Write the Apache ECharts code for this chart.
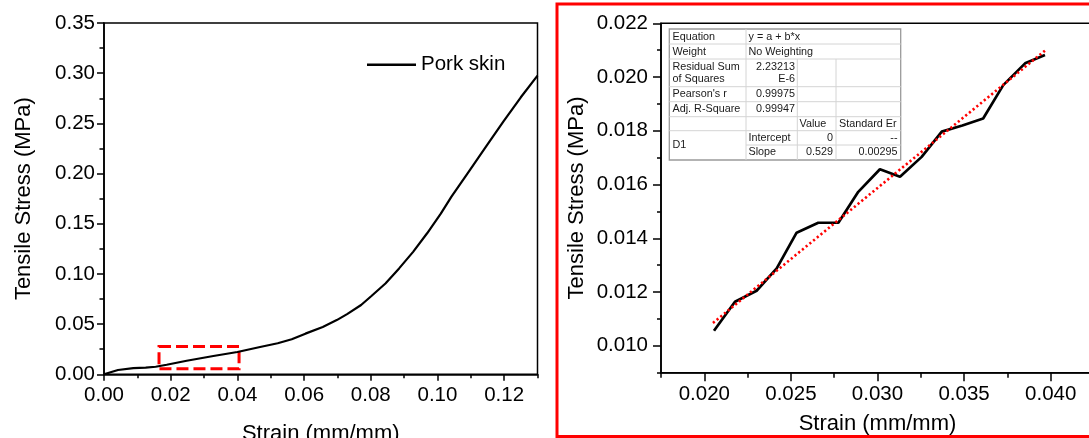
<!DOCTYPE html>
<html><head><meta charset="utf-8">
<script src="https://cdn.jsdelivr.net/npm/echarts@6/dist/echarts.min.js"></script>
<style>html,body{margin:0;padding:0;background:#fff}#c{width:1089px;height:438px}</style>
</head><body><div id="c"></div>
<script>
// ---- Left panel: full stress-strain curve ----
const leftStrain = [0, 0.0042, 0.0088, 0.0125, 0.0155, 0.0188, 0.0248, 0.0328, 0.0400, 0.0468, 0.0521, 0.0563, 0.0604, 0.0656, 0.0698, 0.0729, 0.0771, 0.0802, 0.0844, 0.0885, 0.0927, 0.0969, 0.1010, 0.1042, 0.1094, 0.1146, 0.1198, 0.1250, 0.1300];
const leftStress = [0, 0.0043, 0.0062, 0.0067, 0.0075, 0.0095, 0.0135, 0.0182, 0.0222, 0.0272, 0.0309, 0.0349, 0.0405, 0.0472, 0.0540, 0.0600, 0.0690, 0.0780, 0.0905, 0.1055, 0.1220, 0.1405, 0.1600, 0.1770, 0.2020, 0.2270, 0.2520, 0.2760, 0.2975];
const leftXTicks = [0.00, 0.02, 0.04, 0.06, 0.08, 0.10, 0.12];
const leftYTicks = [0.00, 0.05, 0.10, 0.15, 0.20, 0.25, 0.30, 0.35];
const zoomBoxStrain = [0.0165, 0.0405];
const zoomBoxStress = [0.0055, 0.0278];
const legendName = 'Pork skin';

// ---- Right panel: zoomed region + linear fit ----
const zoomStrain = [0.02056, 0.02177, 0.02302, 0.02418, 0.02533, 0.02658, 0.02774, 0.02889, 0.03014, 0.03130, 0.03255, 0.03371, 0.03490, 0.03610, 0.03726, 0.03852, 0.03967];
const zoomStress = [0.01056, 0.01164, 0.01205, 0.01288, 0.01421, 0.01458, 0.01458, 0.01573, 0.01657, 0.01629, 0.01703, 0.01797, 0.01820, 0.01846, 0.01970, 0.02051, 0.02082];
const fitStrain = [0.0205, 0.0397];
const fitStress = [0.01085, 0.02100];
const rightXTicks = [0.020, 0.025, 0.030, 0.035, 0.040];
const rightYTicks = [0.010, 0.012, 0.014, 0.016, 0.018, 0.020, 0.022];

// ---- Fit table text ----
const tableLabels = ['Equation', 'Weight', 'Residual Sum', 'of Squares', "Pearson's r", 'Adj. R-Square', 'D1'];
const tableValues = ['y = a + b*x', 'No Weighting', '2.23213', 'E-6', '0.99975', '0.99947'];
const tableHeader = ['Value', 'Standard Er'];
const tableParams = ['Intercept', 'Slope'];
const tableParamValues = ['0', '0.529'];
const tableParamErrors = ['--', '0.00295'];

const FONT = '"Liberation Sans", Arial, sans-serif';
const zip = (a, b) => a.map((v, i) => [v, b[i]]);
const near = (v, arr) => arr.some(t => Math.abs(t - v) < 1e-7);

const chart = echarts.init(document.getElementById('c'));

function mainAxis(grid, min, max, interval, ticks, digits, tickLen, margin, name, nameGap, isX) {
  return {
    type: 'value', gridIndex: grid, min: min, max: max, interval: interval,
    position: isX ? 'bottom' : 'left',
    name: name, nameLocation: 'middle', nameGap: nameGap,
    nameTextStyle: { fontFamily: FONT, fontSize: 22, color: '#000' },
    axisLine: { show: true, lineStyle: { color: '#000', width: 1.6 } },
    axisTick: { show: true, inside: false, length: tickLen, lineStyle: { color: '#000', width: 1.5 } },
    axisLabel: { show: true, margin: margin, fontFamily: FONT, fontSize: 20.5, color: '#000',
      formatter: v => near(v, ticks) ? v.toFixed(digits) : '' },
    splitLine: { show: false }
  };
}
function majorAxis(grid, min, max, interval, ticks, tickLen, isX) {
  return {
    type: 'value', gridIndex: grid, min: min, max: max, interval: interval,
    position: isX ? 'bottom' : 'left',
    axisLine: { show: false },
    axisTick: { show: true, inside: false, length: tickLen, customValues: ticks, lineStyle: { color: '#000', width: 1.5 } },
    axisLabel: { show: false },
    splitLine: { show: false }
  };
}

const option = {
  backgroundColor: '#fff',
  animation: false,
  grid: [
    { left: 104, top: 23, width: 433.5, height: 351.3, show: true, borderColor: '#000', borderWidth: 1.5, containLabel: false, outerBoundsMode: 'none' },
    { left: 661, top: 23.3, width: 433, height: 349.4, show: true, borderColor: '#000', borderWidth: 1.5, containLabel: false, outerBoundsMode: 'none' }
  ],
  legend: {
    data: [legendName], left: 367, top: 54.3, padding: 0, itemWidth: 49, itemHeight: 2.4, itemGap: 5, icon: 'rect',
    itemStyle: { color: '#000' },
    textStyle: { fontFamily: FONT, fontSize: 20.5, color: '#000' }
  },
  xAxis: [
    mainAxis(0, 0, 0.13, 0.01, leftXTicks, 2, 4, 11, 'Strain (mm/mm)', 49, true),
    majorAxis(0, 0, 0.13, 0.01, leftXTicks, 6.5, true),
    mainAxis(1, 0.0175, 0.0425, 0.0025, rightXTicks, 3, 5, 11, 'Strain (mm/mm)', 40, true),
    majorAxis(1, 0.0175, 0.0425, 0.0025, rightXTicks, 8.5, true)
  ],
  yAxis: [
    mainAxis(0, 0, 0.35, 0.025, leftYTicks, 2, 4.5, 9, 'Tensile Stress (MPa)', 69, false),
    majorAxis(0, 0, 0.35, 0.025, leftYTicks, 7, false),
    mainAxis(1, 0.009, 0.022, 0.001, rightYTicks, 3, 4, 13, 'Tensile Stress (MPa)', 73, false),
    majorAxis(1, 0.009, 0.022, 0.001, rightYTicks, 8, false)
  ],
  series: [
    {
      name: legendName, type: 'line', xAxisIndex: 0, yAxisIndex: 0,
      data: zip(leftStrain, leftStress), symbol: 'none', smooth: false,
      lineStyle: { color: '#000', width: 2.2 }, itemStyle: { color: '#000' },
      markArea: {
        silent: true,
        itemStyle: { color: 'rgba(0,0,0,0)', borderColor: '#ff0000', borderWidth: 3, borderType: [12, 5] },
        data: [[{ coord: [zoomBoxStrain[0], zoomBoxStress[1]] }, { coord: [zoomBoxStrain[1], zoomBoxStress[0]] }]]
      }
    },
    {
      name: 'zoom', type: 'line', xAxisIndex: 2, yAxisIndex: 2,
      data: zip(zoomStrain, zoomStress), symbol: 'none',
      lineStyle: { color: '#000', width: 2.7 }, z: 2
    },
    {
      name: 'fit', type: 'line', xAxisIndex: 2, yAxisIndex: 2,
      data: zip(fitStrain, fitStress), symbol: 'none',
      lineStyle: { color: '#ff0000', width: 2.6, type: [2.2, 2.6] }, z: 3
    }
  ],
  graphic: []
};

// Red frame around right panel
const g = [];
g.push({ type: 'rect', shape: { x: 557, y: 4, width: 620, height: 432.5 }, style: { fill: 'none', stroke: '#ff0000', lineWidth: 3 }, z: 100 });

// Fit table
const tx = [669.3, 746, 797.3, 836, 900.7];
const ty = [29, 44, 59, 86.7, 101.7, 116.7, 130.7, 145, 160];
g.push({ type: 'rect', shape: { x: tx[0], y: ty[0], width: tx[4] - tx[0], height: ty[8] - ty[0] }, style: { fill: '#fff', stroke: '#9a9a9a', lineWidth: 1.3 }, z: 50 });
const inner = '#d4d4d4';
function hl(y, x1, x2) { g.push({ type: 'line', shape: { x1: x1, y1: y, x2: x2, y2: y }, style: { stroke: inner, lineWidth: 1 }, z: 51 }); }
function vl(x, y1, y2) { g.push({ type: 'line', shape: { x1: x, y1: y1, x2: x, y2: y2 }, style: { stroke: inner, lineWidth: 1 }, z: 51 }); }
[1, 2, 3, 4, 5, 6].forEach(i => hl(ty[i], tx[0], tx[4]));
hl(ty[7], tx[1], tx[4]);
vl(tx[1], ty[0], ty[8]);
vl(tx[2], ty[2], ty[8]);
vl(tx[3], ty[2], ty[8]);
function txt(s, x, y, align) {
  g.push({ type: 'text', x: x, y: y, style: { text: s, fill: '#1a1a1a', font: '10.8px ' + FONT, textAlign: align || 'left', textVerticalAlign: 'middle' }, z: 52 });
}
const L0 = tx[0] + 3.2, L1 = tx[1] + 2.5, R1 = tx[2] - 2.3, L2 = tx[2] + 2.2, R2 = tx[3] - 3, L3 = tx[3] + 3, R3 = tx[4] - 3.2;
txt(tableLabels[0], L0, 36.7); txt(tableValues[0], L1, 36.7);
txt(tableLabels[1], L0, 51.7); txt(tableValues[1], L1, 51.7);
txt(tableLabels[2], L0, 66.7); txt(tableLabels[3], L0, 79);
txt(tableValues[2], R1, 66.7, 'right'); txt(tableValues[3], R1, 79, 'right');
txt(tableLabels[4], L0, 94.2); txt(tableValues[4], R1, 94.2, 'right');
txt(tableLabels[5], L0, 109.2); txt(tableValues[5], R1, 109.2, 'right');
txt(tableHeader[0], L2, 123.7); txt(tableHeader[1], L3, 123.7);
txt(tableLabels[6], L0, 145.3);
txt(tableParams[0], L1, 137.9); txt(tableParamValues[0], R2, 137.9, 'right'); txt(tableParamErrors[0], R3, 137.9, 'right');
txt(tableParams[1], L1, 152.5); txt(tableParamValues[1], R2, 152.5, 'right'); txt(tableParamErrors[1], R3, 152.5, 'right');
option.graphic = g;

chart.setOption(option);
</script>
</body></html>
